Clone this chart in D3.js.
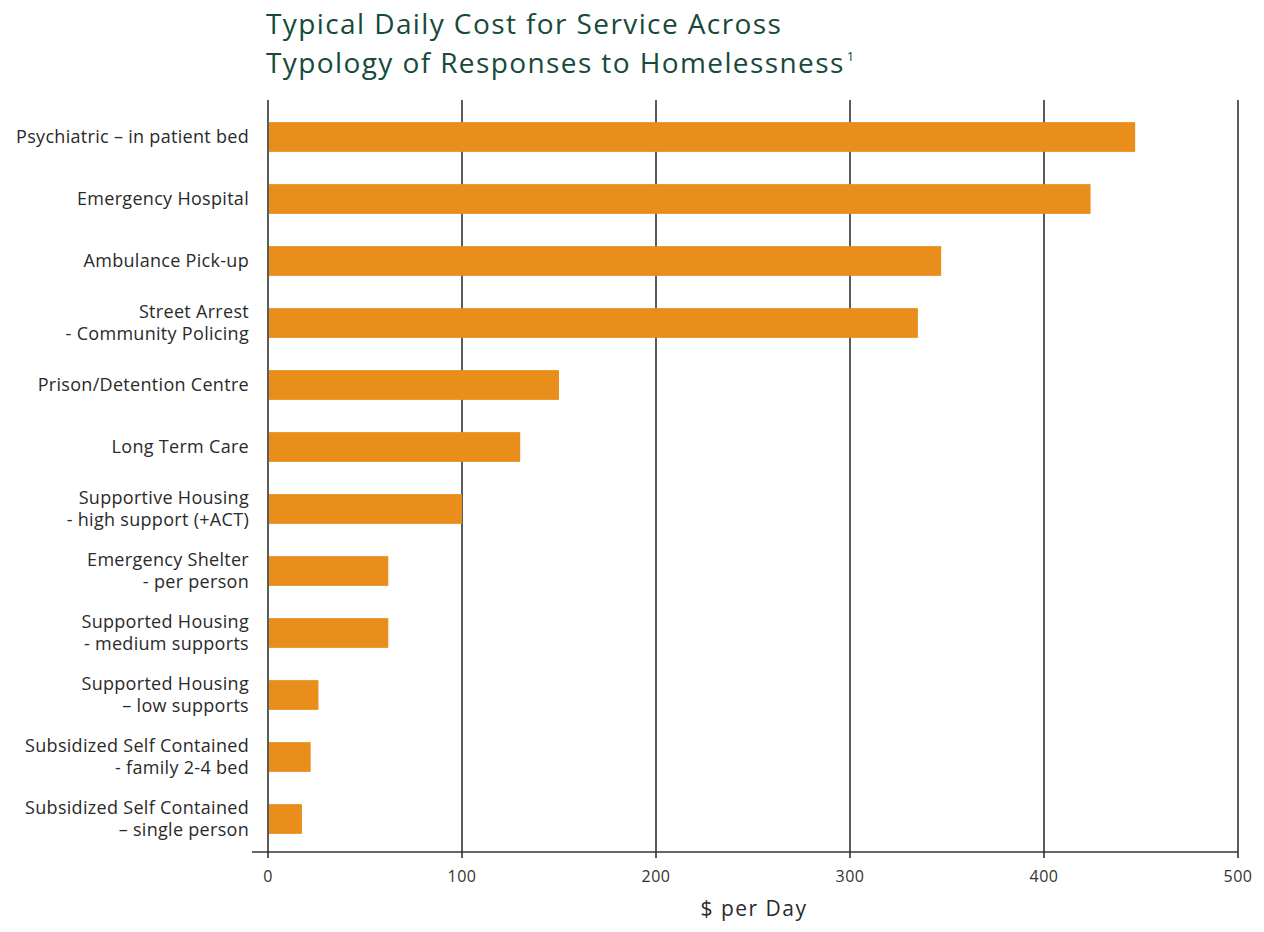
<!DOCTYPE html>
<html><head><meta charset="utf-8">
<script src="https://cdn.jsdelivr.net/npm/d3@7"></script>
<style>body{margin:0;background:#fff;}svg{display:block;}</style>
</head><body><svg id="c" width="1264" height="932"></svg>
<script>
const categories = [
  ["Psychiatric – in patient bed"],
  ["Emergency Hospital"],
  ["Ambulance Pick-up"],
  ["Street Arrest", "- Community Policing"],
  ["Prison/Detention Centre"],
  ["Long Term Care"],
  ["Supportive Housing", "- high support  (+ACT)"],
  ["Emergency Shelter", "- per person"],
  ["Supported Housing", "- medium supports"],
  ["Supported Housing", "– low supports"],
  ["Subsidized Self Contained", "- family 2-4 bed"],
  ["Subsidized Self Contained", "– single person"]
];
const values = [447, 424, 347, 335, 150, 130, 100, 62, 62, 26, 22, 17.5];
const ticks = [0, 100, 200, 300, 400, 500];
const titleLines = ["Typical Daily Cost for Service Across", "Typology of Responses to Homelessness"];
const xTitle = "$ per Day";

const svg = d3.select("#c");
const font = "'Open Sans', sans-serif";
const x = d3.scaleLinear().domain([0, 500]).range([268, 1238]);
const y = d3.scaleBand().domain(d3.range(categories.length)).range([106, 850]).paddingInner(0.52).paddingOuter(0.26);

// gridlines
svg.append("g").selectAll("line").data(ticks).join("line")
  .attr("x1", d => x(d)).attr("x2", d => x(d))
  .attr("y1", 100).attr("y2", 858)
  .attr("stroke", "#333").attr("stroke-width", 1.6);

// bars
svg.append("g").selectAll("rect").data(values).join("rect")
  .attr("x", x(0) + 1).attr("y", (d, i) => y(i))
  .attr("width", d => x(d) - x(0) - 1).attr("height", y.bandwidth())
  .attr("fill", "#EA8E1B");

// x axis line
svg.append("line").attr("x1", 252).attr("x2", x(500)).attr("y1", 852).attr("y2", 852)
  .attr("stroke", "#333").attr("stroke-width", 1.6);

// tick labels
svg.append("g").selectAll("text").data(ticks).join("text")
  .attr("x", d => x(d)).attr("y", 882).attr("text-anchor", "middle")
  .attr("font-family", font).attr("font-size", 16).attr("letter-spacing", 0.5).attr("fill", "#333")
  .text(d => d);

svg.append("text").attr("x", 754).attr("y", 916).attr("text-anchor", "middle")
  .attr("font-family", font).attr("font-size", 21).attr("letter-spacing", 1.5).attr("fill", "#2a2a2a").text(xTitle);

// category labels
const lab = svg.append("g");
categories.forEach((lines, i) => {
  const cy = y(i) + y.bandwidth() / 2;
  const n = lines.length;
  lines.forEach((t, j) => {
    lab.append("text").attr("x", 249).attr("y", cy + (j - (n - 1) / 2) * 22 + 6)
      .attr("text-anchor", "end").attr("font-family", font).attr("font-size", 18)
      .attr("letter-spacing", 0.3).attr("fill", "#2a2a2a").text(t);
  });
});

// title
const tt = svg.append("g");
titleLines.forEach((t, i) => {
  const te = tt.append("text").attr("x", 266).attr("y", 34 + i * 39)
    .attr("font-family", font).attr("font-size", 28).attr("letter-spacing", 1.4)
    .attr("fill", "#174a3a").text(t);
  if (i === 1) te.append("tspan").attr("dx", 2).attr("dy", -12).attr("font-size", 13).text("1");
});
</script></body></html>
